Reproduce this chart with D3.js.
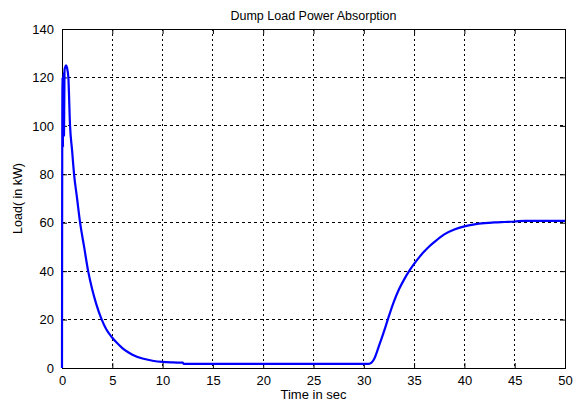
<!DOCTYPE html>
<html>
<head>
<meta charset="utf-8">
<script src="https://cdn.jsdelivr.net/npm/d3@7"></script>
<style>
  body { margin: 0; background: #fff; }
  svg { display: block; font-family: "Liberation Sans", Arial, sans-serif; }
</style>
</head>
<body>
<div id="chart"></div>
<script>
// time (s) and dump load power (kW)
const timeSec = [0, 0.01, 0.05, 0.1, 0.15, 0.2, 0.25, 0.3, 0.4, 0.5, 0.63, 0.8, 1.0, 1.2, 1.5, 1.8, 2.2, 2.6, 3.0, 3.4, 3.9, 4.4, 5, 5.5, 6, 6.5, 7, 8, 9, 10, 11, 12, 12.1, 20, 30.5,
  31, 31.5, 32, 32.5, 33, 33.5, 34, 34.5, 35, 35.5, 36, 36.5, 37, 38, 39, 40, 41, 42, 43, 44, 45, 46, 50];
const loadKW = [0, 44, 120, 91, 122, 96, 123, 124, 125, 124, 120, 100, 90, 80, 70, 60, 50, 40, 32.5, 26.5, 20.5, 16, 12.5, 10.2, 8.2, 6.7, 5.5, 3.9, 3, 2.5, 2.3, 2.2, 1.7, 1.7, 1.7,
  3.5, 9, 15, 21.5, 27.5, 32.5, 36.5, 40, 43, 45.7, 48.1, 50.2, 52, 55.2, 57.2, 58.5, 59.3, 59.8, 60.1, 60.3, 60.5, 60.8, 60.8];
const xTicks = [0, 5, 10, 15, 20, 25, 30, 35, 40, 45, 50];
const yTicks = [0, 20, 40, 60, 80, 100, 120, 140];

const W = 580, H = 404;
const margin = { top: 29, right: 15, bottom: 36, left: 62 },
    width = W - margin.left - margin.right,
    height = H - margin.top - margin.bottom;

const svgRoot = d3.select("#chart").append("svg")
    .attr("width", W)
    .attr("height", H);

const svg = svgRoot.append("g")
    .attr("transform", `translate(${margin.left},${margin.top})`);

const x = d3.scaleLinear().domain([0, 50]).range([0, width]);
const y = d3.scaleLinear().domain([0, 140]).range([height, 0]);

// grid
svg.append("g").selectAll("line")
    .data(xTicks.slice(1, -1))
    .enter().append("line")
    .attr("x1", d => x(d)).attr("x2", d => x(d))
    .attr("y1", 0).attr("y2", height)
    .attr("stroke", "#000")
    .attr("stroke-width", 1)
    .attr("stroke-dasharray", "2,3")
    .attr("shape-rendering", "crispEdges");

svg.append("g").selectAll("line")
    .data(yTicks.slice(1, -1))
    .enter().append("line")
    .attr("y1", d => y(d)).attr("y2", d => y(d))
    .attr("x1", 0).attr("x2", width)
    .attr("stroke", "#000")
    .attr("stroke-width", 1)
    .attr("stroke-dasharray", "3,3")
    .attr("shape-rendering", "crispEdges");

// axes, ticks pointing inward
const xAxis = d3.axisBottom(x).tickValues(xTicks).tickSize(-5).tickPadding(8);
const yAxis = d3.axisLeft(y).tickValues(yTicks).tickSize(-5).tickPadding(8);

svg.append("g")
    .attr("transform", `translate(0,${height})`)
    .call(xAxis);
svg.append("g").call(yAxis);

svg.append("g")
    .call(d3.axisTop(x).tickValues(xTicks).tickSize(-5).tickFormat(""));
svg.append("g")
    .attr("transform", `translate(${width},0)`)
    .call(d3.axisRight(y).tickValues(yTicks).tickSize(-5).tickFormat(""));

svg.selectAll(".domain").attr("stroke", "#000");
svg.selectAll(".tick line").attr("stroke", "#000");
svg.selectAll(".tick text")
    .attr("fill", "#000")
    .style("font-size", "13px")
    .style("font-family", "\"Liberation Sans\", Arial, sans-serif");

// curve
const line = d3.line()
    .x((d, i) => x(timeSec[i]))
    .y(d => y(d))
    .curve(d3.curveMonotoneX);

svg.append("path")
    .datum(loadKW)
    .attr("fill", "none")
    .attr("stroke", "#0000ff")
    .attr("stroke-width", 2.2)
    .attr("stroke-linejoin", "round")
    .attr("d", line);

// labels
svgRoot.append("text")
    .attr("x", margin.left + width / 2)
    .attr("y", 20)
    .attr("text-anchor", "middle")
    .style("font-size", "12.5px")
    .text("Dump Load Power Absorption");

svgRoot.append("text")
    .attr("x", margin.left + width / 2)
    .attr("y", 399)
    .attr("text-anchor", "middle")
    .style("font-size", "13px")
    .text("Time in sec");

svgRoot.append("text")
    .attr("transform", `translate(22,${margin.top + height / 2}) rotate(-90)`)
    .attr("text-anchor", "middle")
    .style("font-size", "12.5px")
    .text("Load( in kW)");
</script>
</body>
</html>
